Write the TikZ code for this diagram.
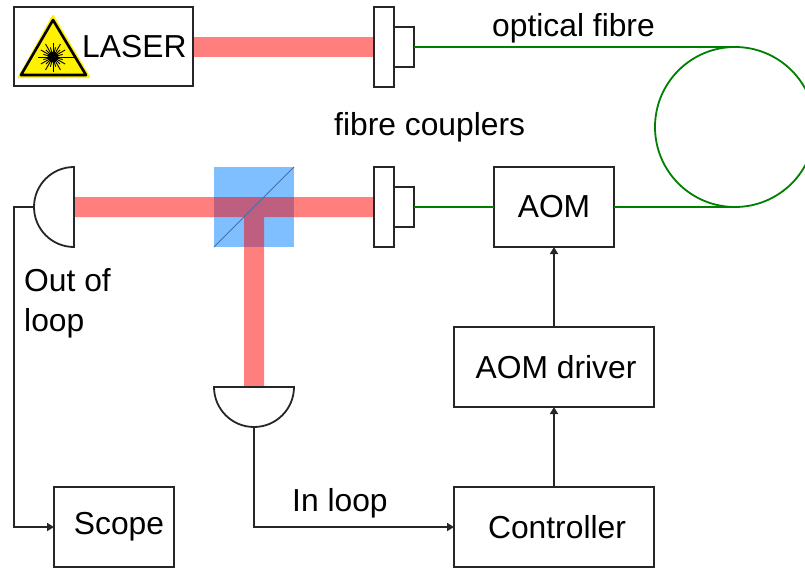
\documentclass[tikz,border=0pt]{standalone}
\usepackage{fontspec}
\setmainfont{Liberation Sans}
\usetikzlibrary{arrows.meta}
\newcommand{\labelfont}{\fontsize{31.8}{37}\selectfont}
\definecolor{cubeblue}{RGB}{128,191,255}
\definecolor{cubeline}{RGB}{70,110,170}
\definecolor{fibregreen}{RGB}{0,128,0}
\tikzset{
  box/.style = {draw=black!85, line width=1.8pt, fill=white, anchor=north west, inner sep=0pt, outer sep=0pt, align=center},
  label/.style = {font=\labelfont, inner sep=0pt, anchor=base west},
  fibre/.style = {draw=fibregreen, line width=1.8pt},
  wire/.style = {draw=black!85, line width=1.8pt},
  arrow/.style = {wire, -{Triangle[length=7pt,width=8pt]}},
  beam/.style = {fill=red, fill opacity=0.5},
  ray/.style = {draw=black, line width=0.9pt}
}
\begin{document}
\begin{tikzpicture}[x=1pt,y=-1pt]
\useasboundingbox (0,0) rectangle (805,570);
\clip (0,0) rectangle (805,570);
% fibre
\node [inner sep=0pt, outer sep=0pt, minimum size=160pt, circle, fibre] (loop) at (735,127) {};
\coordinate (looptop) at (735,47);
\coordinate (loopbottom) at (735,207);
% beams
\fill [beam] (193,37) rectangle (374,57);
\fill [color=cubeblue] (214,167) rectangle (294,247);
\fill [beam] (74,197) -- (374,197) -- (374,217) -- (264,217) -- (264,387) -- (244,387) -- (244,217) -- (74,217) -- cycle;
\draw [color=cubeline, line width=1pt] (214,247) -- (294,167);
% boxes
\node [box, minimum width=179pt, minimum height=79pt] (laser) at (14,7) {};
\foreach \y/\name in {7/top,167/bot} {
  \node [box, minimum width=20pt, minimum height=80pt] (plate\name) at (374,\y) {};
  \node [box, minimum width=20pt, minimum height=40pt] (lens\name) at (394,\y+20) {};
}
\node [box, minimum width=120pt, minimum height=80pt, font=\labelfont] (aom) at (494,167) {AOM};
\node [box, minimum width=200pt, minimum height=80pt, font=\labelfont] (driver) at (454,327) {\hspace{4pt}AOM driver};
\node [box, minimum width=200pt, minimum height=80pt, font=\labelfont] (controller) at (454,487) {\hspace{6pt}Controller};
\node [box, minimum width=120pt, minimum height=80pt, font=\labelfont] (scope) at (54,487) {\hspace{10pt}Scope};
% laser sign
\fill [color=yellow, draw=yellow, line width=2pt, line join=round] (53,16) -- (89,77) -- (19,77) -- cycle;
\draw [line width=2.6pt, line join=round, black] (53,20) -- (86,75) -- (21,75) -- cycle;
\foreach \a/\r in {0/22,30/14,60/15,90/15,120/15,150/14,180/15,210/14,240/15,270/14,300/15,330/14} \draw [ray] (53,57) -- ++(\a:\r);
\foreach \a in {15,45,75,105,135,165,195,225,255,285,315,345} \draw [ray] (53,57) -- ++(\a:10);
\fill (53,57) circle [radius=5.5];
% detectors
\draw [wire, fill=white] (74,167) arc [start angle=-90, end angle=-270, radius=40] -- cycle;
\draw [wire, fill=white] (214,387) arc [start angle=180, end angle=0, radius=40] -- cycle;
\coordinate (outdet) at (34,207);
\coordinate (indet) at (254,427);
% connectors
\draw [fibre] (lenstop.east) -- (looptop);
\draw [fibre] (lensbot.east) -- (aom.west);
\draw [fibre] (aom.east) -- (loopbottom);
\draw [arrow] (outdet) -| (14,527) -- (scope.west);
\draw [arrow] (indet) |- (controller.west);
\draw [arrow] (controller.north) -- (driver.south);
\draw [arrow] (driver.north) -- (aom.south);
% labels
\node [label] (laserlabel) at (82,57) {LASER};
\node [label] (fibrelabel) at (492,36) {optical fibre};
\node [label] (couplerlabel) at (334,135) {fibre couplers};
\node [label] (outlabel) at (24,291) {Out of};
\node [label] (looplabel) at (24,331) {loop};
\node [label] (inlabel) at (292,511) {In loop};
\end{tikzpicture}
\end{document}
